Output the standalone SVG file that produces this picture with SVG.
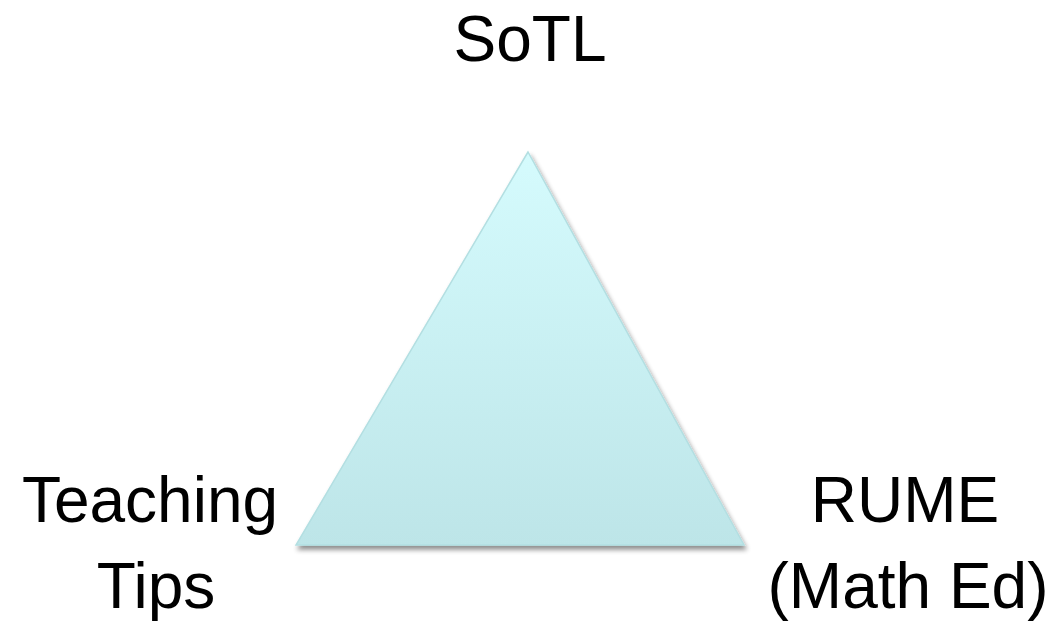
<svg xmlns="http://www.w3.org/2000/svg" width="1051" height="622" viewBox="0 0 1051 622">
<style>
text{font-family:"Liberation Sans",Arial,sans-serif;font-size:64px;fill:#000;text-anchor:middle}
</style>
<defs>
<linearGradient id="tg" x1="0" y1="0" x2="0" y2="1">
<stop offset="0" stop-color="#d5fbfd"/>
<stop offset="1" stop-color="#bde5e8"/>
</linearGradient>
<filter id="sh" x="-10%" y="-10%" width="120%" height="120%">
<feGaussianBlur in="SourceAlpha" stdDeviation="2.5"/>
<feOffset dx="2" dy="4" result="b"/>
<feComponentTransfer><feFuncA type="linear" slope="0.45"/></feComponentTransfer>
<feMerge><feMergeNode/><feMergeNode in="SourceGraphic"/></feMerge>
</filter>
</defs>
<rect width="1051" height="622" fill="#fff"/>
<g id="triangle">
<polygon points="528,152 296,545 744,545" fill="url(#tg)" stroke="#b3dfe2" stroke-width="1.5" filter="url(#sh)"/>
</g>
<g id="connectors"></g>
<g id="sotl"><text x="530" y="61">SoTL</text></g>
<g id="teaching"><text x="150" y="522">Teaching</text><text x="156" y="608">Tips</text></g>
<g id="rume"><text x="905" y="522">RUME</text><text x="908" y="608">(Math Ed)</text></g>
</svg>
